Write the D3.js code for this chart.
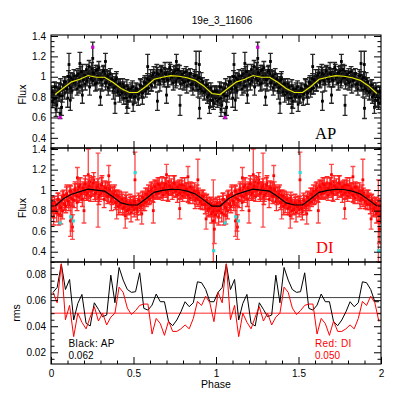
<!DOCTYPE html>
<html><head><meta charset="utf-8">
<script src="https://cdn.jsdelivr.net/npm/d3@7"></script>
<style>body{margin:0;background:#fff}svg{display:block}</style>
</head><body><svg id="c" width="415" height="415"></svg>
<script>
const title = "19e_3_11606";
const phase = [0.003,0.009,0.016,0.022,0.029,0.035,0.041,0.047,0.053,0.058,
0.064,0.070,0.077,0.083,0.090,0.096,0.101,0.108,0.114,0.120,
0.127,0.133,0.139,0.146,0.152,0.158,0.164,0.171,0.177,0.183,
0.190,0.196,0.202,0.208,0.215,0.221,0.227,0.234,0.240,0.246,
0.253,0.259,0.265,0.272,0.278,0.284,0.290,0.297,0.303,0.309,
0.316,0.322,0.328,0.334,0.341,0.347,0.353,0.359,0.366,0.372,
0.378,0.385,0.391,0.397,0.404,0.410,0.416,0.422,0.429,0.435,
0.441,0.448,0.454,0.460,0.466,0.472,0.479,0.485,0.491,0.498,
0.504,0.510,0.516,0.523,0.529,0.535,0.541,0.548,0.554,0.560,
0.566,0.573,0.579,0.585,0.591,0.598,0.604,0.610,0.616,0.623,
0.629,0.635,0.641,0.648,0.654,0.660,0.666,0.673,0.679,0.685,
0.691,0.698,0.704,0.710,0.716,0.723,0.729,0.735,0.741,0.748,
0.754,0.760,0.766,0.773,0.779,0.785,0.791,0.798,0.804,0.810,
0.816,0.823,0.829,0.835,0.841,0.848,0.854,0.860,0.866,0.873,
0.879,0.885,0.891,0.898,0.904,0.910,0.916,0.923,0.929,0.935,
0.941,0.948,0.954,0.960,0.966,0.973,0.979,0.985,0.991,0.997];
const apFlux = [0.86,0.76,0.83,0.90,0.79,0.72,0.85,0.88,0.81,0.93,
0.70,0.87,0.92,0.84,0.95,0.89,0.79,0.96,0.91,0.99,
0.86,0.94,1.01,0.92,0.97,0.88,1.03,0.95,0.99,0.91,
1.05,0.97,1.02,0.93,1.07,0.99,1.04,0.90,1.01,1.08,
0.96,1.03,0.98,1.06,0.94,1.01,1.09,0.97,1.02,0.92,
1.05,0.99,1.03,0.95,1.00,0.89,0.98,1.03,0.93,0.97,
0.86,0.95,0.90,0.99,0.87,0.93,0.82,0.90,0.85,0.93,
0.79,0.87,0.83,0.91,0.76,0.85,0.80,0.88,0.83,0.73,
0.86,0.81,0.89,0.84,0.78,0.87,0.92,0.85,0.80,0.90,
0.95,0.86,0.93,0.98,0.89,0.96,1.01,0.91,0.99,1.04,
0.94,1.00,1.06,0.97,1.02,0.93,1.05,0.99,1.03,0.95,
1.08,1.00,1.04,0.96,1.02,1.07,0.98,1.03,0.94,1.01,
1.06,0.97,1.03,0.99,1.05,0.93,1.01,0.97,1.04,0.95,
1.00,0.91,1.02,0.97,1.00,0.92,0.98,0.88,0.96,1.01,
0.93,0.97,0.87,0.95,0.90,0.98,0.86,0.92,0.84,0.91,
0.87,0.80,0.89,0.84,0.77,0.86,0.81,0.74,0.85,0.79];
const apErr = [0.05,0.06,0.04,0.05,0.05,0.07,0.04,0.06,0.05,0.05,
0.08,0.05,0.04,0.06,0.05,0.04,0.09,0.05,0.06,0.05,
0.07,0.05,0.06,0.05,0.04,0.06,0.05,0.06,0.04,0.05,
0.07,0.05,0.04,0.06,0.05,0.05,0.06,0.08,0.05,0.06,
0.05,0.04,0.06,0.05,0.07,0.05,0.06,0.04,0.05,0.06,
0.05,0.06,0.04,0.05,0.06,0.07,0.05,0.05,0.04,0.06,
0.08,0.05,0.05,0.06,0.05,0.04,0.07,0.05,0.06,0.05,
0.06,0.05,0.04,0.06,0.07,0.05,0.05,0.06,0.04,0.07,
0.05,0.06,0.05,0.04,0.06,0.05,0.06,0.05,0.07,0.05,
0.04,0.06,0.05,0.05,0.06,0.04,0.06,0.05,0.05,0.06,
0.05,0.04,0.06,0.05,0.05,0.07,0.05,0.04,0.06,0.05,
0.06,0.05,0.04,0.06,0.05,0.05,0.06,0.04,0.07,0.05,
0.05,0.06,0.05,0.04,0.06,0.05,0.05,0.06,0.04,0.06,
0.05,0.07,0.05,0.05,0.04,0.06,0.05,0.06,0.05,0.04,
0.06,0.05,0.07,0.05,0.05,0.06,0.05,0.04,0.07,0.05,
0.05,0.06,0.05,0.04,0.07,0.05,0.05,0.06,0.05,0.06];
const diFlux = [0.80,0.84,0.74,0.88,0.82,0.78,0.91,0.76,0.86,0.83,
0.89,0.80,0.95,0.87,0.84,0.97,0.90,0.86,0.99,0.92,
0.74,0.96,0.90,1.02,0.95,0.88,1.00,0.93,1.05,0.97,
0.91,1.01,0.98,1.06,0.95,1.02,0.99,1.08,0.94,1.03,
1.00,1.10,0.96,1.02,0.99,1.05,0.93,1.01,0.97,1.07,
0.99,0.91,1.03,0.96,1.00,0.94,1.02,0.95,0.89,0.98,
0.93,0.99,0.88,0.95,0.90,0.84,0.93,0.87,0.91,0.82,
0.88,0.85,0.92,0.80,0.86,0.83,0.89,0.78,0.85,0.88,
0.81,0.87,0.84,0.79,0.86,0.90,0.83,0.88,0.93,0.86,
0.91,0.96,0.89,0.94,0.99,0.92,0.97,1.02,0.94,0.99,
1.04,0.96,1.01,1.06,0.97,1.02,0.99,1.07,0.95,1.01,
1.04,0.98,1.03,0.96,1.08,1.00,1.04,0.97,1.02,1.06,
0.99,1.03,0.95,1.01,1.05,0.98,1.02,0.94,1.00,1.04,
0.97,1.01,0.95,0.99,0.92,0.98,1.02,0.94,0.97,0.90,
0.96,0.99,0.91,0.95,0.88,0.93,0.86,0.94,0.89,0.83,
0.90,0.86,0.80,0.87,0.83,0.77,0.85,0.80,0.83,0.76];
const diErr = [0.06,0.07,0.08,0.06,0.05,0.09,0.06,0.10,0.05,0.07,
0.06,0.08,0.05,0.07,0.06,0.08,0.05,0.06,0.06,0.07,
0.14,0.05,0.07,0.06,0.05,0.08,0.06,0.05,0.07,0.06,
0.07,0.05,0.06,0.08,0.05,0.06,0.07,0.06,0.05,0.09,
0.06,0.07,0.05,0.06,0.08,0.06,0.07,0.05,0.06,0.07,
0.05,0.08,0.06,0.06,0.07,0.05,0.06,0.07,0.09,0.05,
0.06,0.06,0.07,0.05,0.06,0.08,0.06,0.05,0.07,0.06,
0.05,0.07,0.06,0.08,0.05,0.06,0.07,0.09,0.05,0.06,
0.07,0.05,0.06,0.08,0.06,0.05,0.07,0.06,0.05,0.06,
0.07,0.06,0.05,0.08,0.06,0.05,0.07,0.06,0.05,0.07,
0.06,0.05,0.08,0.06,0.06,0.05,0.07,0.06,0.05,0.06,
0.08,0.05,0.06,0.07,0.06,0.05,0.07,0.06,0.05,0.08,
0.06,0.05,0.07,0.06,0.05,0.06,0.07,0.05,0.06,0.08,
0.05,0.06,0.06,0.07,0.05,0.06,0.05,0.07,0.06,0.08,
0.05,0.06,0.07,0.05,0.06,0.07,0.05,0.06,0.08,0.06,
0.05,0.07,0.06,0.05,0.07,0.09,0.06,0.05,0.06,0.08];
// second set of observations (interleaved phases)
const phase2 = [0.006,0.019,0.031,0.044,0.056,0.069,0.081,0.094,0.106,0.119,
0.131,0.144,0.156,0.169,0.181,0.194,0.206,0.219,0.231,0.244,
0.256,0.269,0.281,0.294,0.306,0.319,0.331,0.344,0.356,0.369,
0.381,0.394,0.406,0.419,0.431,0.444,0.456,0.469,0.481,0.494,
0.506,0.519,0.531,0.544,0.556,0.569,0.581,0.594,0.606,0.619,
0.631,0.644,0.656,0.669,0.681,0.694,0.706,0.719,0.731,0.744,
0.756,0.769,0.781,0.794,0.806,0.819,0.831,0.844,0.856,0.869,
0.881,0.894,0.906,0.919,0.931,0.944,0.956,0.969,0.981,0.994];
const apFlux2 = [0.85,0.78,0.90,0.83,0.88,0.81,0.95,0.88,1.00,0.89,
0.97,0.95,1.01,0.91,1.05,0.97,1.01,0.96,1.10,0.98,
1.04,0.93,1.07,0.99,0.97,1.06,0.94,1.01,0.92,0.98,
0.89,0.97,0.85,0.93,0.84,0.90,0.79,0.88,0.81,0.90,
0.80,0.88,0.83,0.91,0.84,0.94,0.88,0.97,0.92,1.02,
0.95,1.03,0.96,1.06,0.98,1.03,0.97,1.09,1.00,1.04,
0.95,1.07,0.99,1.02,0.94,1.05,0.96,1.03,0.93,1.01,
0.91,0.99,0.88,0.95,0.85,0.92,0.82,0.89,0.77,0.86];
const apErr2 = [0.05,0.06,0.04,0.07,0.05,0.06,0.05,0.04,0.06,0.05,
0.06,0.04,0.05,0.07,0.05,0.06,0.04,0.05,0.06,0.05,
0.05,0.07,0.04,0.05,0.06,0.05,0.07,0.04,0.06,0.05,
0.05,0.06,0.04,0.05,0.07,0.05,0.06,0.04,0.05,0.06,
0.06,0.05,0.04,0.06,0.05,0.07,0.05,0.04,0.06,0.05,
0.05,0.06,0.04,0.05,0.06,0.05,0.07,0.05,0.04,0.06,
0.06,0.05,0.05,0.04,0.07,0.05,0.06,0.05,0.04,0.06,
0.05,0.06,0.05,0.04,0.07,0.05,0.06,0.05,0.06,0.05];
const diFlux2 = [0.87,0.80,0.86,0.91,0.83,0.93,0.86,0.96,0.89,0.99,
0.91,1.00,0.94,1.03,0.96,1.02,1.06,0.97,1.04,1.00,
1.07,0.97,1.03,0.95,1.05,0.99,1.02,0.94,1.00,0.92,
0.96,0.88,0.94,0.86,0.91,0.83,0.89,0.81,0.87,0.84,
0.89,0.82,0.90,0.85,0.93,0.88,0.96,0.91,1.00,0.94,
1.03,0.97,1.05,0.99,1.02,1.06,0.98,1.04,1.01,1.07,
0.99,1.03,0.97,1.05,0.98,1.01,0.95,1.03,0.96,0.99,
0.92,0.97,0.89,0.94,0.86,0.90,0.82,0.87,0.79,0.85];
const diErr2 = [0.06,0.07,0.05,0.06,0.08,0.06,0.05,0.07,0.06,0.05,
0.07,0.06,0.05,0.08,0.06,0.06,0.05,0.07,0.06,0.05,
0.06,0.08,0.05,0.06,0.07,0.05,0.06,0.07,0.05,0.06,
0.07,0.05,0.06,0.08,0.05,0.07,0.06,0.05,0.06,0.07,
0.05,0.06,0.07,0.05,0.06,0.08,0.06,0.05,0.07,0.06,
0.06,0.05,0.07,0.06,0.05,0.06,0.08,0.05,0.06,0.07,
0.05,0.06,0.06,0.07,0.05,0.06,0.07,0.05,0.06,0.08,
0.06,0.05,0.07,0.06,0.05,0.06,0.07,0.06,0.05,0.07];
// outlying AP points with large error bars
const apOutPhase = [0.109,0.175,0.253,0.117,0.190,0.388,0.586,0.782,0.899,0.879,0.900,0.055,0.300,0.645,0.700,0.330,0.760,0.460,0.030,0.960];
const apOutFlux  = [1.12,1.13,1.18,0.77,0.82,0.74,1.10,0.72,1.12,1.13,0.69,0.64,0.80,0.76,0.82,1.15,1.15,0.70,0.68,0.70];
const apOutErr   = [0.11,0.11,0.16,0.10,0.08,0.10,0.12,0.10,0.13,0.12,0.10,0.05,0.08,0.09,0.08,0.08,0.07,0.06,0.07,0.06];
// outlying DI points with large error bars
const diOutPhase = [0.226,0.285,0.509,0.890,0.984,0.398,0.118,0.130,0.160,0.620,0.700,0.060,0.350,0.780,0.940,0.450,0.550,0.990,0.830,0.200];
const diOutFlux  = [1.15,1.00,1.10,1.10,0.70,0.85,0.70,0.64,1.12,0.80,1.15,0.75,1.14,0.82,0.72,0.75,0.77,0.62,1.13,0.80];
const diOutErr   = [0.25,0.36,0.27,0.20,0.40,0.13,0.15,0.12,0.10,0.12,0.10,0.08,0.10,0.10,0.10,0.12,0.10,0.14,0.10,0.12];
// highlighted points
const apMarkPhase = [0.253,0.055];
const apMarkFlux  = [1.29,0.60];
const diMarkPhase = [0.055,0.120,0.135,0.510,0.986];
const diMarkFlux  = [0.68,0.74,0.70,1.17,0.41];
// model curves
const modelPhase = [0.025,0.075,0.125,0.175,0.225,0.275,0.325,0.375,0.425,0.475,0.525,0.575,0.625,0.675,0.725,0.775,0.825,0.875,0.925,0.975];
const apModel = [0.825,0.89,0.95,0.975,1.012,0.995,0.995,0.945,0.885,0.845,0.845,0.905,0.975,0.995,1.01,1.005,0.99,0.965,0.91,0.835];
const diModel = [0.845,0.915,0.96,0.985,1.01,1.0,0.99,0.935,0.875,0.855,0.855,0.915,0.978,0.998,1.008,1.006,0.99,0.962,0.905,0.845];
// binned rms
const rmsPhase = [0.0125,0.0375,0.0625,0.0875,0.1125,0.1375,0.1625,0.1875,0.2125,0.2375,0.2625,0.2875,0.3125,0.3375,0.3625,0.3875,0.4125,0.4375,0.4625,0.4875,
0.5125,0.5375,0.5625,0.5875,0.6125,0.6375,0.6625,0.6875,0.7125,0.7375,0.7625,0.7875,0.8125,0.8375,0.8625,0.8875,0.9125,0.9375,0.9625,0.9875];
const apRms = [0.066,0.0698,0.0877,0.0682,0.0759,0.0448,0.0575,0.0644,0.0422,0.0402,0.058,0.0529,0.0473,0.0486,0.0792,0.058,0.0851,0.0754,0.0682,0.066,
0.0665,0.081,0.0537,0.0524,0.0562,0.0647,0.0588,0.0588,0.0435,0.0404,0.0448,0.0511,0.0588,0.055,0.058,0.0741,0.0734,0.0682,0.0588,0.0588];
const diRms = [0.066,0.058,0.088,0.045,0.056,0.032,0.050,0.043,0.038,0.047,0.055,0.044,0.050,0.041,0.047,0.050,0.070,0.066,0.054,0.049,
0.052,0.056,0.057,0.057,0.034,0.046,0.042,0.033,0.044,0.036,0.036,0.038,0.041,0.038,0.046,0.059,0.056,0.063,0.058,0.0435];
const apRmsMean = 0.062, diRmsMean = 0.050;
const xTicks = [0,0.5,1,1.5,2];
const fluxTicks = [0.4,0.6,0.8,1.0,1.2,1.4];
const rmsTicks = [0.02,0.04,0.06,0.08];

const FONT = '"Liberation Sans", Arial, Helvetica, sans-serif';
const L = 51, R = 381;
const P = [{top:35,bot:148},{top:148,bot:262},{top:262,bot:364}];
const svg = d3.select("#c");
const defs = svg.append("defs");
const x = d3.scaleLinear().domain([0,2]).range([L,R]);
const y1 = d3.scaleLinear().domain([0.3,1.41]).range([P[0].bot,P[0].top]);
const y2 = d3.scaleLinear().domain([0.3,1.41]).range([P[1].bot,P[1].top]);
const y3 = d3.scaleLinear().domain([0.011,0.0893]).range([P[2].bot,P[2].top]);
const fmt = d => String(+d.toFixed(2));

P.forEach((p,i)=>defs.append("clipPath").attr("id","cp"+i).append("rect")
  .attr("x",L).attr("y",p.top).attr("width",R-L).attr("height",p.bot-p.top));

function cloud(g, y, ph, fl, er, barColor, barOp, ptColor, cap){
  const data=[];
  for(let c=0;c<2;c++) ph.forEach((p,i)=>data.push({p:p+c,f:fl[i],e:er[i]}));
  g.append("path").attr("fill","none").attr("stroke",barColor).attr("stroke-width",1.35).attr("opacity",barOp)
    .attr("d",data.map(d=>{const xx=x(d.p),a=y(d.f-d.e),b=y(d.f+d.e);
      return `M${xx},${a}V${b}M${xx-cap},${a}H${xx+cap}M${xx-cap},${b}H${xx+cap}`;}).join(""));
  g.append("g").selectAll("rect").data(data).join("rect")
    .attr("x",d=>x(d.p)-1.4).attr("y",d=>y(d.f)-1.4).attr("width",2.8).attr("height",2.8).attr("fill",ptColor);
}
function marks(g,y,ph,fl,color){
  const data=[];
  for(let c=0;c<2;c++) ph.forEach((p,i)=>data.push({p:p+c,f:fl[i]}));
  g.selectAll(null).data(data).join("rect").attr("x",d=>x(d.p)-1.6).attr("y",d=>y(d.f)-1.6)
    .attr("width",3.2).attr("height",3.2).attr("fill",color);
}
function model(g,y,vals,color){
  const data=[];
  for(let c=0;c<2;c++) modelPhase.forEach((p,i)=>data.push([p+c,vals[i]]));
  g.append("path").datum(data).attr("fill","none").attr("stroke",color).attr("stroke-width",1.2)
    .attr("d",d3.line().x(d=>x(d[0])).y(d=>y(d[1])));
}

// Panel 1: AP
const g1 = svg.append("g").attr("clip-path","url(#cp0)");
cloud(g1,y1,apOutPhase,apOutFlux,apOutErr,"#1a1a1a",0.95,"#000",2.4);
cloud(g1,y1,phase,apFlux,apErr,"#1a1a1a",0.95,"#000",2.4);
cloud(g1,y1,phase2,apFlux2,apErr2,"#1a1a1a",0.95,"#000",2.4);
model(g1,y1,apModel,"#e8e800");
marks(g1,y1,apMarkPhase,apMarkFlux,"#cc00cc");

// Panel 2: DI
const g2 = svg.append("g").attr("clip-path","url(#cp1)");
cloud(g2,y2,diOutPhase,diOutFlux,diOutErr,"#ff2a2a",0.85,"#ff0000",2.4);
cloud(g2,y2,phase,diFlux,diErr,"#ff1a1a",0.92,"#ff0000",2.4);
cloud(g2,y2,phase2,diFlux2,diErr2,"#ff1a1a",0.92,"#ff0000",2.4);
model(g2,y2,diModel,"#000");
marks(g2,y2,diMarkPhase,diMarkFlux,"#30d8d8");

// Panel 3: rms
const g3 = svg.append("g").attr("clip-path","url(#cp2)");
g3.append("line").attr("x1",L).attr("x2",R).attr("y1",y3(apRmsMean)).attr("y2",y3(apRmsMean)).attr("stroke","#444").attr("stroke-width",1);
g3.append("line").attr("x1",L).attr("x2",R).attr("y1",y3(diRmsMean)).attr("y2",y3(diRmsMean)).attr("stroke","#ff7070").attr("stroke-width",1.5);
function rmsLine(vals,color){
  const data=[];
  for(let c=0;c<2;c++) rmsPhase.forEach((p,i)=>data.push([p+c,vals[i]]));
  g3.append("path").datum(data).attr("fill","none").attr("stroke",color).attr("stroke-width",1)
    .attr("d",d3.line().x(d=>x(d[0])).y(d=>y3(d[1])));
}
rmsLine(apRms,"#000");
rmsLine(diRms,"#ff0000");

// Axes
function axes(p, y, majors, minors, showX){
  const g = svg.append("g");
  const style = s => { s.select(".domain").remove(); s.attr("font-family",FONT).attr("font-size",10); s.selectAll("line").attr("stroke","#000"); };
  const xMin = x.ticks(20).filter(v=>!xTicks.includes(v) && v>0 && v<2);
  const yMin = minors.filter(v=>!majors.some(m=>Math.abs(m-v)<1e-9));
  g.append("g").attr("transform",`translate(${L},0)`).call(d3.axisLeft(y).tickValues(majors).tickSize(-7).tickPadding(5).tickFormat(fmt)).call(style);
  g.append("g").attr("transform",`translate(${L},0)`).call(d3.axisLeft(y).tickValues(yMin).tickSize(-3.5).tickFormat("")).call(style);
  g.append("g").attr("transform",`translate(${R},0)`).call(d3.axisRight(y).tickValues(majors).tickSize(-7).tickFormat("")).call(style);
  g.append("g").attr("transform",`translate(${R},0)`).call(d3.axisRight(y).tickValues(yMin).tickSize(-3.5).tickFormat("")).call(style);
  g.append("g").attr("transform",`translate(0,${p.top})`).call(d3.axisTop(x).tickValues(xTicks.slice(1,-1)).tickSize(-7).tickFormat("")).call(style);
  g.append("g").attr("transform",`translate(0,${p.top})`).call(d3.axisTop(x).tickValues(xMin).tickSize(-3.5).tickFormat("")).call(style);
  g.append("g").attr("transform",`translate(0,${p.bot})`).call(d3.axisBottom(x).tickValues(showX?xTicks:xTicks.slice(1,-1)).tickSize(-7).tickPadding(6).tickFormat(showX?fmt:"")).call(style);
  g.append("g").attr("transform",`translate(0,${p.bot})`).call(d3.axisBottom(x).tickValues(xMin).tickSize(-3.5).tickFormat("")).call(style);
  g.append("rect").attr("x",L).attr("y",p.top).attr("width",R-L).attr("height",p.bot-p.top)
    .attr("fill","none").attr("stroke","#000").attr("stroke-width",1.1);
}
axes(P[0], y1, fluxTicks, y1.ticks(22), false);
axes(P[1], y2, fluxTicks, y2.ticks(22), false);
axes(P[2], y3, rmsTicks, y3.ticks(16), true);

// Texts
const T = (s,xx,yy,opts={}) => svg.append("text").text(s).attr("x",xx).attr("y",yy)
  .attr("font-family",opts.font||FONT).attr("font-size",opts.size||10).attr("fill",opts.fill||"#000")
  .attr("text-anchor",opts.anchor||"start").attr("letter-spacing",opts.ls||0);
T(title, 222, 23.5, {anchor:"middle"});
T("Phase", 216, 388, {anchor:"middle", size:10.5});
svg.append("text").text("Flux").attr("transform",`translate(26,${(P[0].top+P[0].bot)/2+3}) rotate(-90)`).attr("text-anchor","middle").attr("font-family",FONT).attr("font-size",10.5);
svg.append("text").text("Flux").attr("transform",`translate(26,${(P[1].top+P[1].bot)/2+3}) rotate(-90)`).attr("text-anchor","middle").attr("font-family",FONT).attr("font-size",10.5);
svg.append("text").text("rms").attr("transform",`translate(20,${(P[2].top+P[2].bot)/2}) rotate(-90)`).attr("text-anchor","middle").attr("font-family",FONT).attr("font-size",10.5);
T("AP", 315, 139.3, {font:'"Liberation Serif","Times New Roman",serif', size:16.6});
T("DI", 316, 253, {font:'"Liberation Serif","Times New Roman",serif', size:16.6, fill:"#ff0000"});
T("Black: AP", 68.5, 346.5, {ls:0.4});
T(apRmsMean.toFixed(3), 68.5, 359);
T("Red: DI", 315, 346.5, {ls:0.4, fill:"#ff0000"});
T(diRmsMean.toFixed(3), 315, 359, {fill:"#ff0000"});
</script></body></html>
